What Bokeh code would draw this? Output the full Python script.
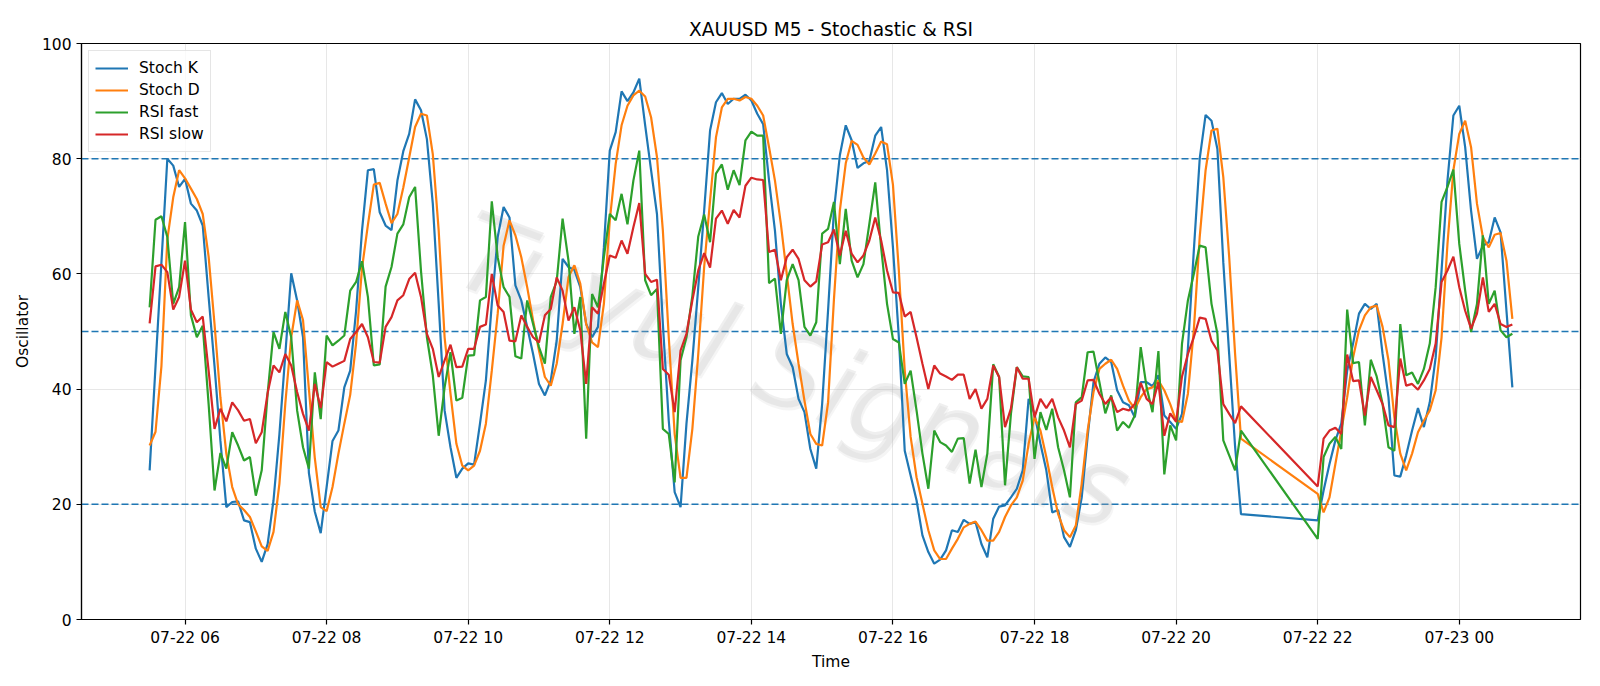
import pandas as pd
from bokeh.plotting import figure
from bokeh.models import (Range1d, FixedTicker, DatetimeTickFormatter, Span,
                          Legend, LegendItem, ColumnDataSource)
from bokeh.core.properties import value
from bokeh.embed import file_html
from bokeh.resources import INLINE

# ---------------- data ----------------
chart_title = "XAUUSD M5 - Stochastic & RSI"
watermark = "Tuyul Signals"
session_1 = ("2025-07-22 05:30", "2025-07-22 20:55")
session_2 = ("2025-07-22 22:00", "2025-07-23 00:45")
tick_times = ["2025-07-22 06:00", "2025-07-22 08:00", "2025-07-22 10:00",
              "2025-07-22 12:00", "2025-07-22 14:00", "2025-07-22 16:00",
              "2025-07-22 18:00", "2025-07-22 20:00", "2025-07-22 22:00",
              "2025-07-23 00:00"]
y_ticks = [0, 20, 40, 60, 80, 100]
levels = [20, 50, 80]
series_names = ["Stoch K", "Stoch D", "RSI fast", "RSI slow"]

stoch_k = [
    25.9, 44, 62, 80, 78.8, 75.1, 76.5, 72.2, 71, 68.4,
    56, 44, 31, 19.5, 20.4, 20.5, 17.2, 16.9, 12.3, 10,
    13.1, 20.7, 32.2, 46, 60.1, 55.4, 49, 25.4, 18.7, 15,
    23, 31, 32.8, 40.3, 43.2, 53.6, 67.5, 78, 78.2, 70.7,
    68.4, 67.6, 76.2, 81.3, 84.3, 90.3, 88.4, 83.4, 72.2, 54.8,
    36.3, 29.9, 24.6, 26.2, 27.1, 26.9, 34, 41.5, 54.8, 66.4,
    71.6, 69.8, 58, 55.4, 50.8, 46.1, 40.9, 38.9, 41.5, 48.4,
    62.6, 61.2, 60.7, 57.7, 51.3, 49, 50.8, 64.6, 81.4, 84.6,
    91.7, 90, 91.5, 93.9, 85.8, 78, 70.4, 51.3, 34.5, 22.1,
    19.5, 34, 45, 57.7, 71, 84.9, 89.8, 91.4, 89.5, 90.4,
    90.4, 91.1, 90.1, 87.8, 86, 76.2, 67.5, 54.8, 46.1, 43.8,
    38.3, 36, 29.6, 26.2, 37.4, 53.6, 71, 80.6, 85.8, 83.2,
    78.4, 79.2, 79.6, 84, 85.5, 78, 64.6, 49, 29.3, 25,
    20.7, 14.6, 11.7, 9.7, 10.4, 12, 15.5, 15.2, 17.3, 16.6,
    16.9, 13.1, 10.8, 17.5, 19.6, 19.8, 21.2, 22.7, 25.9, 38.3,
    35.7, 30.5, 25.9, 18.6, 19, 14.3, 12.6, 15.5, 21.2, 31.7,
    41.2, 44.4, 45.5, 44.7, 39.8, 37.7, 37.2, 35.1, 41.2, 41.2,
    40.5, 42.4, 35.4, 34.3, 33.1, 35.7, 47, 64, 80, 87.6,
    86.6, 81.7, 62, 46, 30, 18.3,
    17.2, 22.4, 27, 31.1, 34, 43.2, 47.9, 53.1, 54.8, 53.9,
    54.8, 46.1, 38.6, 25, 24.8, 28.5, 32.8, 36.7, 33.4, 37.7,
    45.5, 60.6, 76.2, 87.5, 89.2, 82, 71, 62.6, 64.9, 65.5,
    69.8, 67.2, 53.6, 40.3,
]

stoch_d = [
    30.2, 32.6, 44, 66, 73.3, 78, 76.6, 74.8, 73, 70.4,
    63, 51.3, 38.5, 28.8, 23, 20, 19, 17.8, 15.3, 12.7,
    11.9, 15.2, 23.6, 37.5, 49, 55.4, 52, 40, 28, 19.5,
    18.8, 23, 28.8, 34, 39, 48, 61, 68.5, 75.5, 75.8,
    72.2, 68.8, 70.4, 75, 80.2, 85.5, 87.8, 87.5, 80.8, 67.5,
    49, 39.2, 30.5, 26.7, 25.9, 26.7, 29.3, 34, 43.2, 53.1,
    64.9, 69.3, 66.7, 62.9, 57.7, 51.9, 46.7, 42.1, 40.6, 44.4,
    51.3, 59.4, 61.5, 58.3, 51.3, 48.1, 47.3, 54.8, 69.3, 79.1,
    85.8, 89.2, 91, 91.8, 90.8, 87.2, 80.3, 67.5, 49, 32.2,
    24.6, 24.6, 33.1, 46.1, 61.2, 72.7, 83.7, 88.9, 90.4, 90.4,
    90.1, 90.7, 90.4, 89.2, 87.5, 82, 76.2, 68.7, 60, 51.3,
    44.4, 38, 32.2, 30.5, 30.2, 37.6, 55.6, 71, 79.2, 83.1,
    82.4, 80.2, 79, 80.9, 83, 82.5, 75.5, 60.6, 43.2, 31.7,
    24.7, 20.1, 15.5, 12, 10.5, 10.5, 12.3, 14, 16, 16.6,
    17, 15.5, 13.7, 13.7, 15.2, 17.8, 19.8, 21.2, 24.1, 30.5,
    35.1, 32.8, 28.2, 23, 18.3, 15.5, 14.3, 16.3, 23.6, 32.8,
    39.5, 43.5, 44.4, 45.1, 43.5, 40.6, 38, 36.6, 38.6, 40,
    40.3, 41.5, 39.8, 37.4, 34.5, 34.3, 39.2, 50.2, 66.4, 78,
    84.9, 85.2, 76.8, 62.9, 46.1, 31.4,
    21.8, 18.6, 21.2, 27, 32.8, 38.6, 45.5, 50.2, 52.8, 54.2,
    54.5, 50.8, 45, 35.1, 28.8, 25.9, 28.8, 32.5, 34.5, 36.3,
    39.8, 49, 65.2, 78, 84.3, 86.6, 82, 72.2, 66.4, 64.6,
    66.8, 67.1, 62.3, 52.2,
]

rsi_fast = [
    54.2, 69.4, 70, 66.4, 54.8, 57.7, 69, 52.8, 49, 51,
    37.4, 22.4, 28.9, 26.2, 32.5, 30.2, 27.6, 28.2, 21.5, 25.9,
    39.2, 49.9, 47, 53.4, 49, 36.3, 29.9, 26.2, 42.9, 34.8,
    49.3, 47.6, 48.4, 49.3, 57.1, 58.6, 62.2, 56, 44.1, 44.3,
    57.8, 61.2, 67, 68.6, 73.3, 75.1, 60.5, 49, 42.4, 31.9,
    40.3, 46.4, 38, 38.5, 45.8, 45.9, 55.4, 56, 72.6, 62.9,
    57.7, 56, 45.7, 45.3, 55.4, 51.3, 47.3, 44.4, 56, 58.7,
    69.6, 62.3, 49.6, 56, 31.4, 56.5, 54.2, 62.9, 70.4, 69.3,
    73.9, 68.6, 76.2, 81.4, 58.9, 56.3, 57.4, 33.1, 32.2, 23.8,
    45, 49, 56.2, 66.5, 70.3, 65.5, 77.4, 79, 74.6, 78,
    75.4, 83.2, 84.7, 84, 84, 58.4, 59.2, 49.6, 58.9, 61.7,
    58.9, 50.8, 49.3, 51.6, 67, 67.8, 72.5, 61.7, 71.3, 62.3,
    59.4, 61.7, 68.7, 75.9, 64.6, 54.8, 48.7, 48.1, 40.9, 43.2,
    36.3, 28.8, 22.7, 32.8, 30.8, 30.2, 29.1, 31.4, 31.5, 23.6,
    29.5, 23, 28.8, 44.3, 42.1, 23.3, 35.7, 43.8, 42.2, 42.1,
    27.9, 36, 32.9, 36.6, 29.9, 25.9, 21.2, 37.7, 38.6, 46.4,
    46.5, 41.2, 35.8, 38.9, 32.8, 34.3, 33.3, 35.4, 47.3, 40.3,
    36, 46.6, 25.2, 33.7, 31.1, 47.9, 55.4, 60, 64.9, 64.6,
    54.8, 49.6, 31.1, 28.5, 25.9, 32.8,
    14, 28.2, 30.5, 31.7, 29.6, 53.8, 44.5, 44.7, 33.7, 45.1,
    42.2, 37.4, 29.9, 29.3, 51.3, 42.4, 42.9, 40.9, 43.5, 47.9,
    57.7, 72.5, 75.1, 78.1, 65.2, 57.1, 49.9, 54.8, 66.7, 54.8,
    57.1, 50.2, 49, 49.6,
]

rsi_slow = [
    51.4, 61.3, 61.6, 60.3, 53.8, 56, 62.3, 53.8, 51.6, 52.6,
    43.2, 33.1, 36.6, 34.4, 37.7, 36.3, 34.5, 34.8, 30.6, 32.5,
    39.3, 44.1, 42.9, 46.1, 44.1, 39.5, 35.7, 32.8, 40.9, 36.7,
    44.7, 43.9, 44.4, 44.9, 48.7, 49.9, 51.3, 49, 44.7, 44.6,
    50.8, 52.5, 55.4, 56.3, 59.1, 60.2, 56, 49.6, 47, 42.1,
    45, 47.7, 43.8, 43.9, 47, 47, 50.8, 51.2, 60, 54.5,
    53.4, 48.4, 48.3, 52.8, 50.8, 49, 48.1, 52.8, 53.9, 59.4,
    57.1, 51.9, 54.2, 50.2, 40.9, 54.2, 53.1, 58.3, 63.2, 62.8,
    65.8, 63.5, 68.1, 72.3, 60, 58.6, 59, 43.5, 42.5, 36,
    46.7, 49.6, 55.4, 60.6, 63.6, 61.1, 69.6, 71, 68.7, 71.1,
    69.8, 75.3, 76.7, 76.4, 76.3, 63.8, 64.2, 58.9, 62.9, 64.2,
    62.6, 58.9, 57.8, 58.7, 65.1, 65.5, 67.7, 63.2, 67.5, 63.5,
    62, 63.2, 65.8, 69.8, 65.8, 60.6, 56.8, 56.7, 52.6, 53.4,
    49, 44.4, 40, 44.1, 42.7, 42.2, 41.6, 42.5, 42.5, 38.3,
    40, 36.6, 38.3, 44.1, 42.1, 33.4, 36.6, 43.8, 41.8, 41.8,
    35.1, 38.3, 36.7, 38.3, 35.1, 32.8, 29.9, 37.4, 38, 41.5,
    41.6, 39.2, 37.4, 38.6, 36, 36.6, 36.3, 37.4, 41.1, 38.3,
    37.4, 41.2, 31.9, 35.8, 34.3, 42.2, 46.1, 49, 52.4, 52.2,
    48.4, 46.7, 37.4, 35.7, 34.1, 37,
    23.1, 31.4, 32.8, 33.3, 32.2, 46, 41.4, 41.5, 35.4, 42.1,
    39.8, 37.4, 33.7, 33.4, 45.3, 40.6, 40.9, 39.9, 41.5, 43.5,
    47.9, 58.6, 60.6, 63, 57.7, 53.6, 50.5, 53.1, 59.4, 53.4,
    54.8, 51.3, 50.8, 51.2,
]

# ---------------- build ----------------
times = pd.date_range(*session_1, freq="5min").append(pd.date_range(*session_2, freq="5min"))
n = len(times)
assert len(stoch_k) == n and len(stoch_d) == n and len(rsi_fast) == n and len(rsi_slow) == n

source = ColumnDataSource(dict(t=times, k=stoch_k, d=stoch_d, f=rsi_fast, s=rsi_slow))

t0, t1 = times[0], times[-1]
pad = (t1 - t0) * 0.05
FONT = "DejaVu Sans"
FS = "15.5px"

p = figure(width=1600, height=686, x_axis_type="datetime",
           output_backend="svg", toolbar_location=None,
           x_range=Range1d(t0 - pad, t1 + pad), y_range=Range1d(0, 100),
           min_border_left=81, min_border_right=20,
           min_border_top=43, min_border_bottom=67)

p.title.text = chart_title
p.title.align = "center"
p.title.text_font = FONT
p.title.text_font_size = "18.6px"
p.title.text_font_style = "normal"
p.title.text_color = "black"
p.title.standoff = 8

epoch = pd.Timestamp("1970-01-01")
tick_ms = [(pd.Timestamp(t) - epoch) // pd.Timedelta("1ms") for t in tick_times]
p.xaxis.ticker = FixedTicker(ticks=tick_ms)
fmt = "%m-%d %H"
p.xaxis.formatter = DatetimeTickFormatter(hours=fmt, hourmin=fmt, days=fmt,
                                          minutes=fmt, minsec=fmt, months=fmt)
p.yaxis.ticker = FixedTicker(ticks=y_ticks)

p.xaxis.axis_label = "Time"
p.yaxis.axis_label = "Oscillator"
for ax in (p.xaxis[0], p.yaxis[0]):
    ax.axis_label_text_font = FONT
    ax.axis_label_text_font_size = FS
    ax.axis_label_text_font_style = "normal"
    ax.axis_label_text_color = "black"
    ax.major_label_text_font = FONT
    ax.major_label_text_font_size = FS
    ax.major_label_text_color = "black"
    ax.major_tick_out = 5
    ax.major_tick_in = 0
    ax.minor_tick_out = 0
    ax.minor_tick_in = 0
    ax.axis_line_color = "black"
    ax.axis_line_width = 1.2
    ax.major_tick_line_width = 1.2
p.xaxis.major_label_standoff = 4
p.xaxis.axis_label_standoff = 3
p.yaxis.major_label_standoff = 5
p.yaxis.axis_label_standoff = 7

p.grid.grid_line_color = "#b0b0b0"
p.grid.grid_line_alpha = 0.3
p.grid.grid_line_width = 1
p.outline_line_color = "black"
p.outline_line_width = 1.2
p.outline_line_alpha = 1
p.background_fill_color = "white"
p.border_fill_color = "white"

# watermark: faint grey lettering with a soft offset shadow
wm_t = [pd.Timestamp("2025-07-22 14:35")]
wm_shadow_t = [pd.Timestamp("2025-07-22 14:36")]
p.text(x=wm_shadow_t, y=[42.7], text=[watermark], angle=-0.36,
       text_font=value(FONT), text_font_style="italic",
       text_font_size="108px", text_color="#9a9a9a", text_alpha=0.10,
       text_align="center", text_baseline="middle")
p.text(x=wm_t, y=[43.2], text=[watermark], angle=-0.36,
       text_font=value(FONT), text_font_style="italic",
       text_font_size="108px", text_color="#b4b4b4", text_alpha=0.22,
       text_align="center", text_baseline="middle")

for lv in levels:
    p.add_layout(Span(location=lv, dimension="width", line_color="#1f77b4",
                      line_dash="7 3", line_width=1.4, level="underlay"))

colors = ["#1f77b4", "#ff7f0e", "#2ca02c", "#d62728"]
cols = ["k", "d", "f", "s"]
renderers = []
for c, col in zip(cols, colors):
    r = p.line("t", c, source=source, line_color=col, line_width=2.2)
    renderers.append(r)

legend = Legend(items=[LegendItem(label=nm, renderers=[r]) for nm, r in zip(series_names, renderers)],
                location="top_left")
legend.label_text_font = FONT
legend.label_text_font_size = FS
legend.label_text_color = "black"
legend.glyph_width = 33
legend.glyph_height = 22
legend.label_height = 22
legend.label_standoff = 11
legend.spacing = 0
legend.padding = 6
legend.margin = 7
legend.border_line_color = "#cccccc"
legend.border_line_width = 1
legend.background_fill_alpha = 0.8
p.add_layout(legend)

open("out.html", "w").write(file_html(p, INLINE))
